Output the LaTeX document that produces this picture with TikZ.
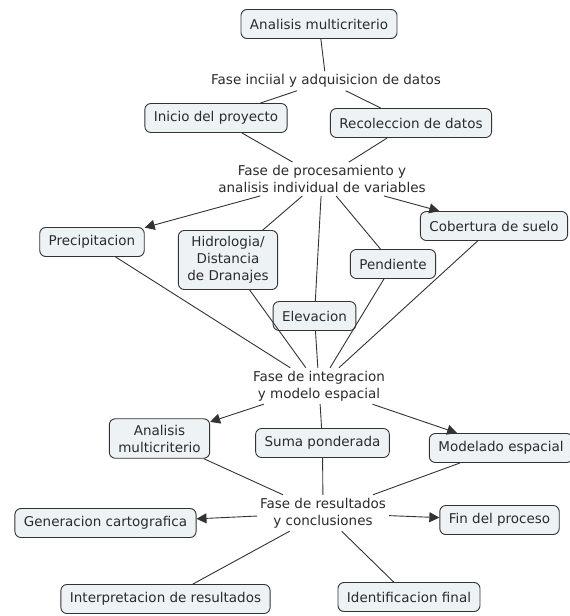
\documentclass[tikz,border=0pt]{standalone}
\usepackage{fontspec}
\setmainfont{DejaVu Sans}
\usetikzlibrary{arrows.meta}

\definecolor{boxfill}{HTML}{EDF3F5}
\definecolor{boxline}{HTML}{333333}
\definecolor{ink}{HTML}{2B2B2B}

\tikzset{
    concept/.style={draw=boxline, fill=boxfill, rounded corners=6pt, line width=0.9pt,
        inner xsep=9pt, inner ysep=0pt, minimum height=29pt, align=center, text=ink,
        font=\fontsize{13.5}{17}\selectfont},
    tall/.style={inner ysep=6pt},
    phrase/.style={inner sep=3pt, align=center, text=ink, font=\fontsize{13.5}{17}\selectfont},
    link/.style={draw=boxline, line width=0.9pt},
    arrow/.style={link, -{Triangle[length=10pt, width=10pt]}}
}

\begin{document}
\begin{tikzpicture}[x=1pt, y=-1pt]
    \useasboundingbox (0,0) rectangle (570,616);

    % concepts
    \node[concept] (top) at (319, 24) {Analisis multicriterio};
    \node[concept] (inicio) at (216, 118) {Inicio del proyecto};
    \node[concept] (recol) at (411, 123) {Recoleccion de datos};
    \node[concept] (precip) at (92, 242) {Precipitacion};
    \node[concept, tall] (hidro) at (228, 260) {Hidrologia/\\Distancia\\de Dranajes};
    \node[concept] (elev) at (314.5, 316) {Elevacion};
    \node[concept] (pend) at (393, 264) {Pendiente};
    \node[concept] (cober) at (494, 226) {Cobertura de suelo};
    \node[concept, tall] (multi) at (159.5, 438.5) {Analisis\\multicriterio};
    \node[concept] (suma) at (322.5, 443) {Suma ponderada};
    \node[concept] (model) at (501, 448) {Modelado espacial};
    \node[concept] (carto) at (105.5, 523) {Generacion cartografica};
    \node[concept] (fin) at (499.5, 520) {Fin del proceso};
    \node[concept] (interp) at (165.5, 599) {Interpretacion de resultados};
    \node[concept] (ident) at (409, 597) {Identificacion final};

    % phases
    \node[phrase] (f1) at (326, 81) {Fase inciial y adquisicion de datos};
    \node[phrase] (f2) at (322, 179) {Fase de procesamiento y\\analisis individual de variables};
    \node[phrase] (f3) at (319, 386) {Fase de integracion\\y modelo espacial};
    \node[phrase] (f4) at (323, 513) {Fase de resultados\\y conclusiones};

    % links
    \draw[link] (top) -- (f1);
    \draw[link] (f1) -- (inicio);
    \draw[link] (f1) -- (recol);
    \draw[link] (inicio) -- (f2);
    \draw[link] (recol) -- (f2);
    \draw[arrow] (f2) -- (precip);
    \draw[link] (f2) -- (hidro);
    \draw[link] (f2) -- (elev);
    \draw[link] (f2) -- (pend);
    \draw[arrow] (f2) -- (cober);
    \foreach \n in {precip, hidro, elev, pend, cober}
        \draw[link] (\n) -- (f3);
    \draw[arrow] (f3) -- (multi);
    \draw[link] (f3) -- (suma);
    \draw[arrow] (f3) -- (model);
    \foreach \n in {multi, suma, model}
        \draw[link] (\n) -- (f4);
    \draw[arrow] (f4) -- (carto);
    \draw[arrow] (f4) -- (fin);
    \draw[link] (f4) -- (interp);
    \draw[link] (f4) -- (ident);
\end{tikzpicture}
\end{document}
